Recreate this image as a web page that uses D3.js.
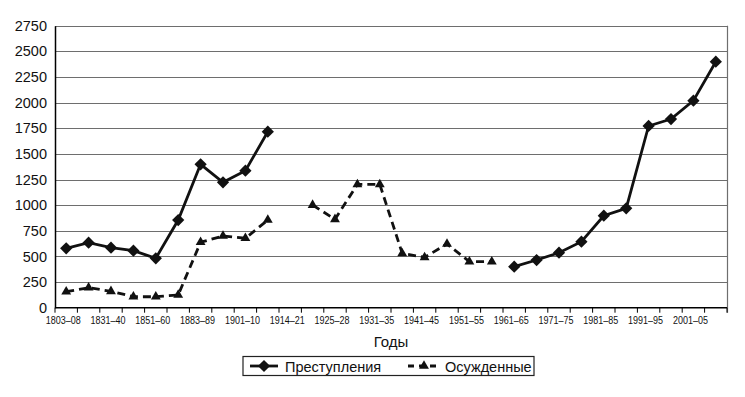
<!DOCTYPE html>
<html><head><meta charset="utf-8">
<script src="https://cdn.jsdelivr.net/npm/d3@7"></script>
<style>
html,body{margin:0;padding:0;background:#fff;}
svg{display:block;}
</style></head>
<body>
<svg id="c" width="745" height="397"></svg>
<script>
const categories = ["1803–08","1821–30","1831–40","1841–50","1851–60","1861–70","1883–89","1890–1900","1901–10","1911–13",
  "1914–21","1922–24","1925–28","1929–30","1931–35","1936–40","1941–45","1946–50","1951–55","1956–60",
  "1961–65","1966–70","1971–75","1976–80","1981–85","1986–90","1991–95","1996–2000","2001–05","2006–08"];
const crimes = [579,634,585,556,482,855,1398,1223,1336,1716,
  null,null,null,null,null,null,null,null,null,null,
  400,465,536,644,897,969,1772,1840,2019,2399];
const convicted = [156,195,160,107,107,124,638,699,677,855,
  null,1001,862,1203,1203,530,491,621,449,449,
  null,null,null,null,null,null,null,null,null,null];
const yTicks = [0,250,500,750,1000,1250,1500,1750,2000,2250,2500,2750];
const seriesNames = ["Преступления","Осужденные"];
const xTitle = "Годы";

const svg = d3.select("#c");
const x = d3.scaleBand().domain(categories).range([55, 727]);
const y = d3.scaleLinear().domain([0, 2750]).range([307.7, 25.7]);
const cx = c => x(c) + x.bandwidth()/2;

// gridlines
svg.append("g").selectAll("line").data(yTicks.filter(v => v > 0)).join("line")
  .attr("x1", 55).attr("x2", 727)
  .attr("y1", d => Math.round(y(d)) + 0.5).attr("y2", d => Math.round(y(d)) + 0.5)
  .attr("stroke", "#6e6e6e").attr("stroke-width", 1.2);
// right border
svg.append("line").attr("x1", 727.5).attr("x2", 727.5).attr("y1", y(2750)).attr("y2", y(0) + 5)
  .attr("stroke", "#6e6e6e").attr("stroke-width", 1.2);

// y axis
const yAxis = d3.axisLeft(y).tickValues(yTicks).tickFormat(d3.format("d")).tickSize(0).tickPadding(8);
const gy = svg.append("g").attr("transform", "translate(55,0)").call(yAxis);
gy.select(".domain").attr("stroke", "#000").attr("stroke-width", 1.5);
gy.selectAll("text").attr("font-family", "Liberation Sans, Arial, sans-serif").attr("font-size", 14.5).attr("fill", "#111");

// x axis
const gx = svg.append("g").attr("transform", `translate(0,${y(0)})`);
gx.append("line").attr("x1", 55).attr("x2", 727).attr("stroke", "#000").attr("stroke-width", 1.5);
const tickPos = categories.map(c => x(c)).concat([x.range()[1]]);
gx.selectAll("line.t").data(tickPos).join("line").attr("class", "t")
  .attr("x1", d => d).attr("x2", d => d).attr("y1", 0).attr("y2", 5)
  .attr("stroke", "#000").attr("stroke-width", 1);
gx.selectAll("text").data(categories.filter((c, i) => i % 2 === 0)).join("text")
  .attr("x", d => cx(d) - 3).attr("y", 16).attr("text-anchor", "middle")
  .attr("font-family", "Liberation Sans, Arial, sans-serif").attr("font-size", 11.5)
  .attr("textLength", 35).attr("lengthAdjust", "spacingAndGlyphs")
  .attr("fill", "#111").text(d => d);

svg.append("text").attr("x", 391).attr("y", 347).attr("text-anchor", "middle")
  .attr("font-family", "Liberation Sans, Arial, sans-serif").attr("font-size", 15).attr("fill", "#111").text(xTitle);

// lines
const line = d3.line().defined(d => d.v != null).x(d => cx(d.c)).y(d => y(d.v));
const crimeData = categories.map((c, i) => ({c, v: crimes[i]}));
const convData = categories.map((c, i) => ({c, v: convicted[i]}));
svg.append("path").datum(convData).attr("d", line).attr("fill", "none")
  .attr("stroke", "#111").attr("stroke-width", 2.8).attr("stroke-dasharray", "8,5");
svg.append("path").datum(crimeData).attr("d", line).attr("fill", "none")
  .attr("stroke", "#111").attr("stroke-width", 2.8);

const diamond = d3.symbol().type(d3.symbolSquare).size(75);
const tri = d3.symbol().type(d3.symbolTriangle).size(42);
svg.append("g").selectAll("path").data(crimeData.filter(d => d.v != null)).join("path")
  .attr("d", diamond).attr("transform", d => `translate(${cx(d.c)},${y(d.v)}) rotate(45)`).attr("fill", "#111");
svg.append("g").selectAll("path").data(convData.filter(d => d.v != null)).join("path")
  .attr("d", tri).attr("transform", d => `translate(${cx(d.c)},${y(d.v)})`).attr("fill", "#111");

// legend
const lg = svg.append("g");
lg.append("rect").attr("x", 243).attr("y", 356.5).attr("width", 291).attr("height", 19)
  .attr("fill", "#fff").attr("stroke", "#222").attr("stroke-width", 1.2);
lg.append("line").attr("x1", 250).attr("x2", 278).attr("y1", 366).attr("y2", 366).attr("stroke", "#111").attr("stroke-width", 2.8);
lg.append("path").attr("d", diamond).attr("transform", "translate(264,366) rotate(45)").attr("fill", "#111");
lg.append("text").attr("x", 285).attr("y", 371.5).attr("font-family", "Liberation Sans, Arial, sans-serif")
  .attr("font-size", 14.5).attr("fill", "#111").text(seriesNames[0]);
lg.append("line").attr("x1", 408).attr("x2", 440).attr("y1", 366).attr("y2", 366).attr("stroke", "#111")
  .attr("stroke-width", 2.8).attr("stroke-dasharray", "6,5");
lg.append("path").attr("d", tri).attr("transform", "translate(424,366)").attr("fill", "#111");
lg.append("text").attr("x", 445).attr("y", 371.5).attr("font-family", "Liberation Sans, Arial, sans-serif")
  .attr("font-size", 14.5).attr("fill", "#111").text(seriesNames[1]);
</script>
</body></html>
